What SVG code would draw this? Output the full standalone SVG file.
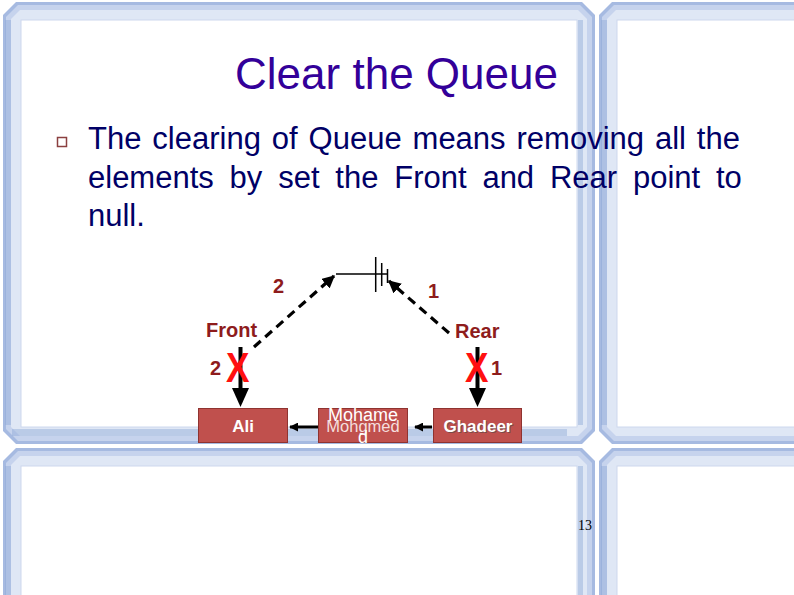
<svg xmlns="http://www.w3.org/2000/svg" width="794" height="595" viewBox="0 0 794 595">
<style>
.f0{fill:#a6bae1}
.f1{fill:#c6d3ed}
.f2{fill:#dfe7f5}
.in{fill:#ffffff;stroke:#cdd8ee;stroke-width:1}
.title{font-family:"Liberation Sans",Arial,sans-serif;font-size:44px;fill:#330099}
.body{font-family:"Liberation Sans",Arial,sans-serif;font-size:31px;fill:#000066}
.lbl{font-family:"Liberation Sans",Arial,sans-serif;font-size:20px;font-weight:bold;fill:#8e1c1c}
.x{font-family:"Liberation Sans",Arial,sans-serif;font-size:32px;font-weight:bold;fill:#ff1010}
.box{fill:#c0504d;stroke:#8f3330;stroke-width:1}
.bt{font-family:"Liberation Sans",Arial,sans-serif;font-weight:bold;fill:#ffffff;text-anchor:middle}
.dash{fill:none;stroke:#000;stroke-width:3.2;stroke-dasharray:9 6}
.thin{fill:none;stroke:#000;stroke-width:1.5}
.thick{fill:none;stroke:#000;stroke-width:4}
.mid{fill:none;stroke:#000;stroke-width:3}
.stripe{fill:#8fa8d8;opacity:0.45}
</style>
<defs>
<marker id="ah" viewBox="0 0 10 10" refX="9" refY="5" markerWidth="4" markerHeight="4" markerUnits="strokeWidth" orient="auto">
<path d="M0,0 L10,5 L0,10 z" fill="#000"/>
</marker>
<marker id="ah2" viewBox="0 0 10 10" refX="9" refY="5" markerWidth="3" markerHeight="3" markerUnits="strokeWidth" orient="auto">
<path d="M0,0 L10,5 L0,10 z" fill="#000"/>
</marker>
</defs>
<rect width="794" height="595" fill="#ffffff"/>
<g id="frames">
<polygon class="f0" points="16,2 582,2 595,15 595,431 582,444 16,444 3,431 3,15"/>
<polygon class="f1" points="18,5 580,5 592,17 592,429 580,441 18,441 6,429 6,17"/>
<polygon class="f2" points="20,10 578,10 587,19 587,427 578,436 20,436 11,427 11,19"/>
<rect class="stripe" x="5" y="20" width="6" height="405"/>
<rect class="stripe" x="578" y="20" width="5" height="405"/>
<rect class="stripe" x="12" y="429" width="555" height="7"/>
<rect class="in" x="21" y="20" width="556" height="407"/>
<polygon class="f0" points="612,2 800,2 800,444 612,444 599,431 599,15"/>
<polygon class="f1" points="614,5 800,5 800,441 614,441 602,429 602,17"/>
<polygon class="f2" points="616,10 800,10 800,436 616,436 607,427 607,19"/>
<rect class="stripe" x="601" y="20" width="6" height="405"/>
<rect class="in" x="617" y="20" width="190" height="407"/>
<polygon class="f0" points="16,448 582,448 595,461 595,600 3,600 3,461"/>
<polygon class="f1" points="18,451 580,451 592,463 592,600 6,600 6,463"/>
<polygon class="f2" points="20,456 578,456 587,465 587,600 11,600 11,465"/>
<rect class="stripe" x="5" y="466" width="6" height="134"/>
<rect class="stripe" x="578" y="466" width="5" height="134"/>
<rect class="in" x="21" y="466" width="556" height="140"/>
<polygon class="f0" points="612,448 800,448 800,600 599,600 599,461"/>
<polygon class="f1" points="614,451 800,451 800,600 602,600 602,463"/>
<polygon class="f2" points="616,456 800,456 800,600 607,600 607,465"/>
<rect class="stripe" x="601" y="466" width="6" height="134"/>
<rect class="in" x="617" y="466" width="190" height="140"/>
</g>
<g id="title">
<text class="title" x="396.5" y="89" text-anchor="middle">Clear the Queue</text>
</g>
<g id="bullet-text">
<rect x="57.5" y="137.5" width="9" height="9" fill="none" stroke="#8b4040" stroke-width="1.5"/>
<text class="body" x="88" y="149" word-spacing="2.3">The clearing of Queue means removing all the</text>
<text class="body" x="88" y="188" word-spacing="7.2">elements by set the Front and Rear point to</text>
<text class="body" x="88" y="226">null.</text>
</g>
<g id="connectors">
<path class="dash" d="M254,347 L334,276" marker-end="url(#ah)"/>
<path class="dash" d="M449,333 L389,281" marker-end="url(#ah)"/>
<path class="thick" d="M240.5,347 V390"/>
<polygon points="232,388 249,388 240.5,407" fill="#000"/>
<path class="thick" d="M477.5,347 V390"/>
<polygon points="469,388 486,388 477.5,407" fill="#000"/>
<path class="mid" d="M318,427 L290,427" marker-end="url(#ah2)"/>
<path class="mid" d="M432,427 L415,427" marker-end="url(#ah2)"/>
</g>
<g id="null-symbol">
<path class="thin" d="M336,274 H388"/>
<path class="thin" d="M375.7,257 V292 M381.7,263 V286 M387.5,269 V283"/>
</g>
<g id="front">
<text class="lbl" x="206" y="337">Front</text>
<text class="lbl" x="210" y="375">2</text>
<text class="x" transform="translate(226,382) scale(1.1,1.3)">X</text>
<text class="lbl" x="273" y="293">2</text>
</g>
<g id="rear">
<text class="lbl" x="455" y="338">Rear</text>
<text class="lbl" x="491" y="375">1</text>
<text class="x" transform="translate(465,382) scale(1.1,1.3)">X</text>
<text class="lbl" x="428" y="298">1</text>
</g>
<g id="ali">
<rect class="box" x="198.5" y="408.5" width="89" height="34"/>
<text class="bt" x="243" y="432" font-size="17">Ali</text>
</g>
<g id="mohamed">
<rect class="box" x="318.5" y="408.5" width="89" height="34"/>
<text x="363" y="432" font-family="'Liberation Sans',Arial,sans-serif" font-size="16.5" fill="#f4dede" text-anchor="middle">Mohgmed</text>
<text x="363" y="421" font-family="'Liberation Sans',Arial,sans-serif" font-size="18" fill="#ffffff" text-anchor="middle">Mohame</text>
<text x="363" y="443" font-family="'Liberation Sans',Arial,sans-serif" font-size="18" fill="#ffffff" text-anchor="middle">d</text>
</g>
<g id="ghadeer">
<rect class="box" x="433.5" y="408.5" width="88" height="34"/>
<text x="479" y="433" font-family="'Liberation Sans',Arial,sans-serif" font-size="17" font-weight="bold" fill="#7a4a48" text-anchor="middle">Ghadeer</text>
<text class="bt" x="478" y="432" font-size="17">Ghadeer</text>
</g>
<g id="page-number">
<text x="578" y="530" font-family="'Liberation Serif','Times New Roman',serif" font-size="14" fill="#000">13</text>
</g>
</svg>
